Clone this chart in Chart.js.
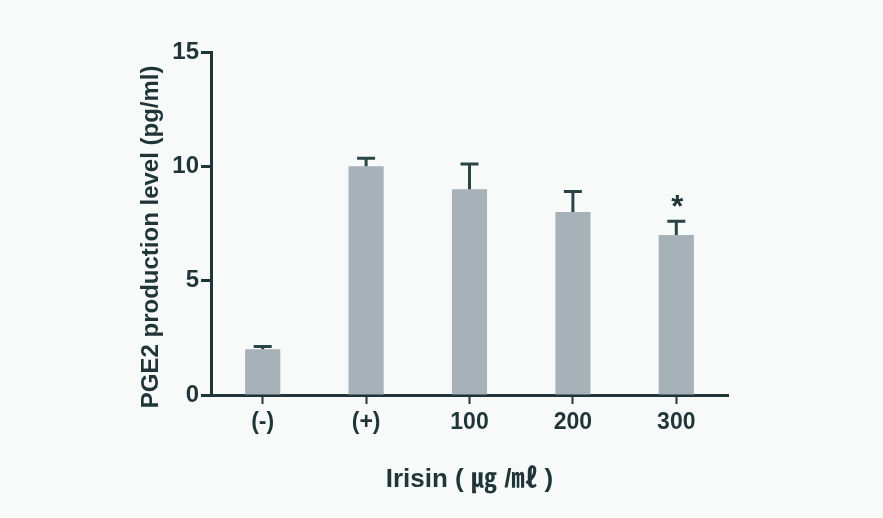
<!DOCTYPE html>
<html>
<head>
<meta charset="utf-8">
<script src="https://cdn.jsdelivr.net/npm/chart.js@4/dist/chart.umd.min.js"></script>
<style>
  html, body { margin: 0; padding: 0; background: #f8fafa; }
  canvas { display: block; }
</style>
</head>
<body>
<canvas id="c" width="883" height="518"></canvas>
<script>
const categories = ['(-)', '(+)', '100', '200', '300'];
const values = [2.0, 10.0, 9.0, 8.0, 7.0];
const errors = [0.12, 0.35, 1.1, 0.9, 0.6];
const markers = ['', '', '', '', '*'];
const yTicks = [0, 5, 10, 15];

const ink = '#1f3538';
const FONT = '"Liberation Sans", Arial, "Noto Sans CJK KR", sans-serif';

const bgPlugin = {
  id: 'bg',
  beforeDraw(chart) {
    const ctx = chart.ctx;
    ctx.save();
    ctx.fillStyle = '#f8fafa';
    ctx.fillRect(0, 0, chart.width, chart.height);
    ctx.restore();
  }
};

const errPlugin = {
  id: 'errbars',
  afterDatasetsDraw(chart) {
    const ctx = chart.ctx;
    const meta = chart.getDatasetMeta(0);
    const ys = chart.scales.y;
    ctx.save();
    ctx.strokeStyle = '#2a4446';
    ctx.lineWidth = 3;
    meta.data.forEach((bar, i) => {
      const x = bar.x;
      const y0 = ys.getPixelForValue(values[i]);
      const y1 = ys.getPixelForValue(values[i] + errors[i]);
      ctx.beginPath();
      ctx.moveTo(x, y0);
      ctx.lineTo(x, y1);
      ctx.moveTo(x - 9, y1);
      ctx.lineTo(x + 9, y1);
      ctx.stroke();
      if (markers[i]) {
        ctx.fillStyle = ink;
        ctx.font = 'bold 31px ' + FONT;
        ctx.textAlign = 'center';
        ctx.textBaseline = 'alphabetic';
        ctx.fillText(markers[i], x + 1, y1 - 4);
      }
    });
    ctx.restore();
  }
};

new Chart(document.getElementById('c'), {
  type: 'bar',
  data: {
    labels: categories,
    datasets: [{
      data: values,
      backgroundColor: '#a7b1b8',
      borderWidth: 0,
      barPercentage: 0.34,
      categoryPercentage: 1.0
    }]
  },
  options: {
    responsive: false,
    animation: false,
    devicePixelRatio: 1,
    layout: { padding: { left: 130, right: 155, top: 52, bottom: 22 } },
    plugins: {
      legend: { display: false },
      tooltip: { enabled: false }
    },
    scales: {
      x: {
        offset: true,
        afterFit(scale) { scale.height = 101; },
        grid: {
          offset: false,
          drawOnChartArea: false,
          drawTicks: true,
          tickLength: 9,
          tickWidth: 2,
          tickColor: ink
        },
        border: { display: true, color: ink, width: 3 },
        ticks: {
          color: ink,
          padding: 5,
          maxRotation: 0,
          font: { family: FONT, size: 23, weight: 'bold' }
        },
        title: {
          display: true,
          text: 'Irisin ( ㎍ /㎖ )',
          color: ink,
          padding: { top: 0, bottom: 1 },
          font: { family: FONT, size: 26, weight: 'bold' }
        }
      },
      y: {
        min: 0,
        max: 15,
        afterFit(scale) { scale.width = 81; },
        afterBuildTicks(scale) { scale.ticks = yTicks.map(v => ({ value: v })); },
        grid: {
          drawOnChartArea: false,
          drawTicks: true,
          tickLength: 10,
          tickWidth: 3,
          tickColor: ink
        },
        border: { display: true, color: ink, width: 3 },
        ticks: {
          color: ink,
          padding: 2,
          font: { family: FONT, size: 24, weight: 'bold' }
        },
        title: {
          display: true,
          text: 'PGE2 production level (pg/ml)    ',
          color: ink,
          padding: { top: 7, bottom: 0 },
          font: { family: FONT, size: 24, weight: 'bold' }
        }
      }
    }
  },
  plugins: [bgPlugin, errPlugin]
});
</script>
</body>
</html>
